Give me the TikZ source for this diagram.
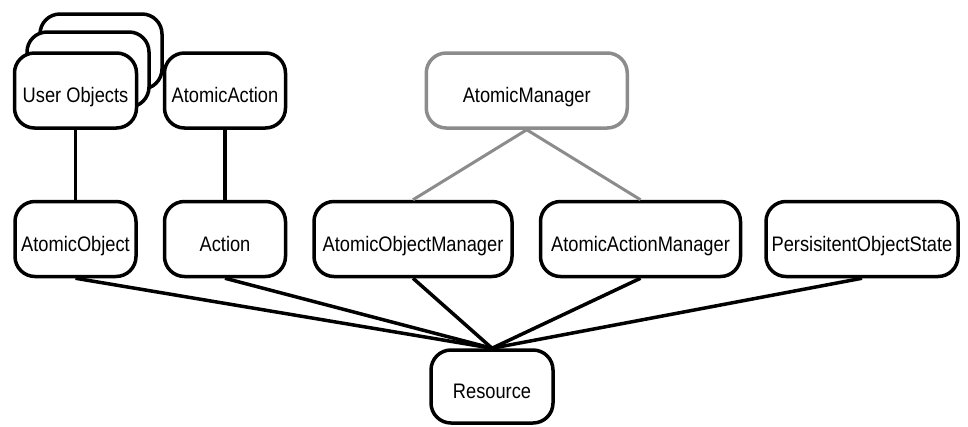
\documentclass[tikz,border=0pt]{standalone}
\usepackage{fontspec}
\setmainfont{Liberation Sans}[FakeStretch=0.87]
\usetikzlibrary{positioning}
\usetikzlibrary{calc}
\tikzset {
  % rounded class box
  cls/.style = {
    draw = black,
    fill = white,
    line width = 3.5pt,
    rounded corners = 20pt,
    inner sep = 0,
    minimum height = 75pt,
    text height = 24pt,
    text depth = 0pt,
    font = \fontsize{21}{24}\selectfont
  },
  % grey manager box
  mgr/.style = {
    cls,
    draw = black!45
  },
  link/.style = {
    draw = black,
    line width = 3.5pt
  },
  mlink/.style = {
    link,
    draw = black!45,
    line width = 3pt
  },
  node distance = 25pt
}
\begin{document}
\begin{tikzpicture}[x=1pt, y=-1pt]
    \useasboundingbox (0,0) rectangle (968,426);
    % second row
    \node[cls, minimum width=121pt] (aobj) at (75.5,239) {AtomicObject};
    \node[cls, minimum width=121pt] (action) [right=25pt of aobj] {Action};
    \node[cls, minimum width=198pt] (aobjmgr) [right=of action] {AtomicObjectManager};
    \node[cls, minimum width=200pt] (aactmgr) [right=of aobjmgr] {AtomicActionManager};
    \node[cls, minimum width=192pt] (pstate) [right=22pt of aactmgr] {PersisitentObjectState};

    % first row
    \node[cls, minimum width=122pt] (user3) at (101,51.5) {};
    \node[cls, minimum width=122pt] (user2) at (88,69.5) {};
    \node[cls, minimum width=122pt] (user) [above=70pt of aobj] {User Objects};
    \node[cls, minimum width=121pt] (aact) [above=70pt of action] {AtomicAction};
    \coordinate (mgrs) at ($(aobjmgr)!0.5!(aactmgr)$);
    \node[mgr, minimum width=201pt] (amgr) at (mgrs |- user) {AtomicManager};

    \node[cls, minimum width=122pt, minimum height=73pt] (res) at (492,386.5) {Resource};

    \draw[link] (user) -- (aobj);
    \draw[link] (aact) -- (action);
    \draw[mlink] (amgr.south) -- (aobjmgr.north);
    \draw[mlink] (amgr.south) -- (aactmgr.north);

    \foreach \n in {aobj, action, aobjmgr, aactmgr, pstate}
      \draw[link] (\n.south) -- (res.north);
  \end{tikzpicture}
\end{document}
